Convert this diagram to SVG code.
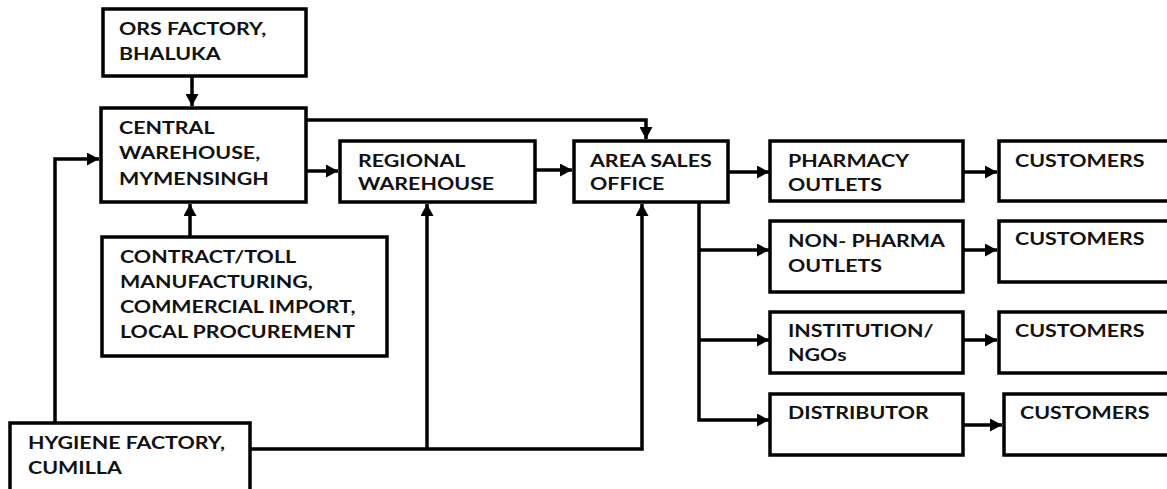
<svg xmlns="http://www.w3.org/2000/svg" width="1167" height="489" viewBox="0 0 1167 489">
<style>
.box{fill:#fff;stroke:#000;stroke-width:3.5}
.t{font-family:Lato,"Open Sans","Liberation Sans",sans-serif;font-weight:bold;font-size:17px;fill:#111}
.c{fill:none;stroke:#000;stroke-width:3.5}
</style>
<defs>
<marker id="ah" viewBox="0 0 12 13" refX="12" refY="6.5" markerWidth="12" markerHeight="13" markerUnits="userSpaceOnUse" orient="auto">
<path d="M0,0 L12,6.5 L0,13 Z" fill="#000"/>
</marker>
</defs>
<rect width="1167" height="489" fill="#fff"/>
<g id="connectors">
<path class="c" d="M192,76 V106" marker-end="url(#ah)"/>
<path class="c" d="M55,423 V159 H99" marker-end="url(#ah)"/>
<path class="c" d="M190,237 V204" marker-end="url(#ah)"/>
<path class="c" d="M306,171 H338" marker-end="url(#ah)"/>
<path class="c" d="M306,120 H646 V139" marker-end="url(#ah)"/>
<path class="c" d="M535,170 H572" marker-end="url(#ah)"/>
<path class="c" d="M250,449 H642 V204" marker-end="url(#ah)"/>
<path class="c" d="M427,449 V204" marker-end="url(#ah)"/>
<path class="c" d="M728,172 H769" marker-end="url(#ah)"/>
<path class="c" d="M699,202 V420 H769" marker-end="url(#ah)"/>
<path class="c" d="M699,250 H769" marker-end="url(#ah)"/>
<path class="c" d="M699,340 H769" marker-end="url(#ah)"/>
<path class="c" d="M963,172 H997" marker-end="url(#ah)"/>
<path class="c" d="M963,250 H997" marker-end="url(#ah)"/>
<path class="c" d="M963,340 H997" marker-end="url(#ah)"/>
<path class="c" d="M963,425 H1002" marker-end="url(#ah)"/>
</g>
<g id="ors">
<rect class="box" x="103" y="9" width="203" height="67"/>
<text class="t" transform="matrix(1.26 0 0 1 119 35)">ORS FACTORY,</text>
<text class="t" transform="matrix(1.26 0 0 1 119 60)">BHALUKA</text>
</g>
<g id="central">
<rect class="box" x="101" y="108" width="205" height="94"/>
<text class="t" transform="matrix(1.26 0 0 1 119 134)">CENTRAL</text>
<text class="t" transform="matrix(1.26 0 0 1 119 159)">WAREHOUSE,</text>
<text class="t" transform="matrix(1.26 0 0 1 119 185)">MYMENSINGH</text>
</g>
<g id="contract">
<rect class="box" x="102" y="237" width="285" height="119"/>
<text class="t" transform="matrix(1.26 0 0 1 120 263)">CONTRACT/TOLL</text>
<text class="t" transform="matrix(1.26 0 0 1 120 288)">MANUFACTURING,</text>
<text class="t" transform="matrix(1.26 0 0 1 120 313)">COMMERCIAL IMPORT,</text>
<text class="t" transform="matrix(1.26 0 0 1 120 338)">LOCAL PROCUREMENT</text>
</g>
<g id="hygiene">
<rect class="box" x="10" y="423" width="240" height="80"/>
<text class="t" transform="matrix(1.26 0 0 1 28 449)">HYGIENE FACTORY,</text>
<text class="t" transform="matrix(1.26 0 0 1 28 474)">CUMILLA</text>
</g>
<g id="regional">
<rect class="box" x="340" y="141" width="195" height="61"/>
<text class="t" transform="matrix(1.26 0 0 1 358 167)">REGIONAL</text>
<text class="t" transform="matrix(1.26 0 0 1 358 190)">WAREHOUSE</text>
</g>
<g id="area">
<rect class="box" x="574" y="141" width="154" height="61"/>
<text class="t" transform="matrix(1.26 0 0 1 590 167)">AREA SALES</text>
<text class="t" transform="matrix(1.26 0 0 1 590 190)">OFFICE</text>
</g>
<g id="pharmacy">
<rect class="box" x="770" y="141" width="193" height="60"/>
<text class="t" transform="matrix(1.26 0 0 1 788 167)">PHARMACY</text>
<text class="t" transform="matrix(1.26 0 0 1 788 191)">OUTLETS</text>
</g>
<g id="nonpharma">
<rect class="box" x="770" y="221" width="193" height="71"/>
<text class="t" transform="matrix(1.26 0 0 1 788 247)">NON- PHARMA</text>
<text class="t" transform="matrix(1.26 0 0 1 788 272)">OUTLETS</text>
</g>
<g id="institution">
<rect class="box" x="770" y="312" width="193" height="61"/>
<text class="t" transform="matrix(1.26 0 0 1 788 337)">INSTITUTION/</text>
<text class="t" transform="matrix(1.26 0 0 1 788 361)">NGOs</text>
</g>
<g id="distributor">
<rect class="box" x="770" y="394" width="193" height="61"/>
<text class="t" transform="matrix(1.26 0 0 1 788 419)">DISTRIBUTOR</text>
</g>
<g id="customers1">
<rect class="box" x="999" y="141" width="180" height="60"/>
<text class="t" transform="matrix(1.26 0 0 1 1015 167)">CUSTOMERS</text>
</g>
<g id="customers2">
<rect class="box" x="999" y="221" width="180" height="61"/>
<text class="t" transform="matrix(1.26 0 0 1 1015 245)">CUSTOMERS</text>
</g>
<g id="customers3">
<rect class="box" x="999" y="312" width="180" height="61"/>
<text class="t" transform="matrix(1.26 0 0 1 1015 337)">CUSTOMERS</text>
</g>
<g id="customers4">
<rect class="box" x="1004" y="394" width="180" height="61"/>
<text class="t" transform="matrix(1.26 0 0 1 1020 419)">CUSTOMERS</text>
</g>
</svg>
